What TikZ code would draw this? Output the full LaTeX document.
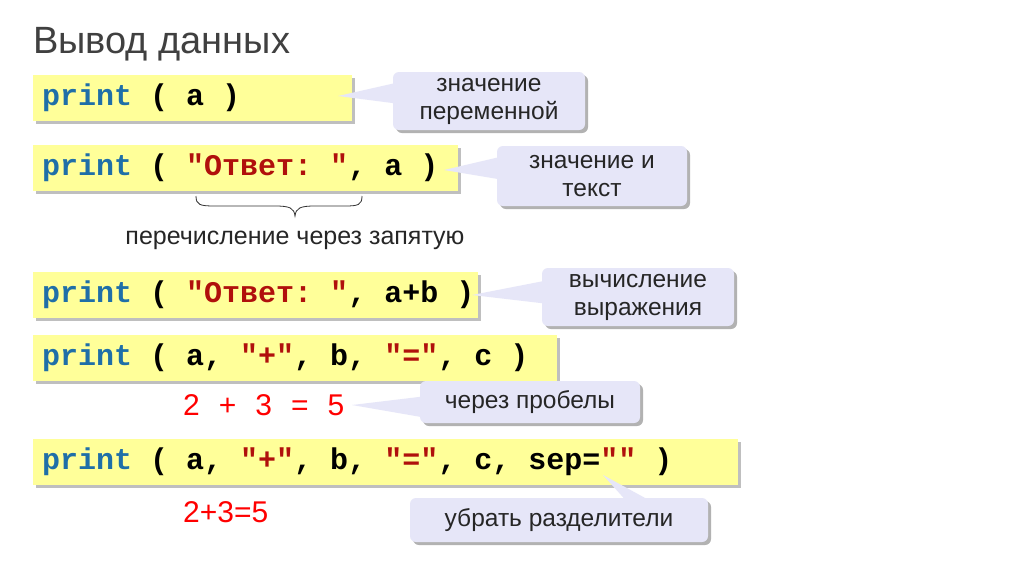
\documentclass[tikz,border=0pt]{standalone}
\usepackage{fontspec}
\setmainfont{Liberation Sans}
\setmonofont{Liberation Mono}
\begin{document}
\begin{tikzpicture}[x=1pt,y=-1pt,
  ctext/.style={anchor=west,font=\fontsize{30}{30}\selectfont\ttfamily\bfseries,inner sep=0},
  ctxt/.style={align=center,font=\fontsize{24.5}{28}\selectfont,text=black!85},
  outp/.style={anchor=west,inner sep=0,font=\fontsize{30}{30}\selectfont,text=red}]
\definecolor{codeyel}{HTML}{FFFF99}
\definecolor{calbg}{HTML}{E6E6F8}
\definecolor{kw}{HTML}{1F6FA8}
\definecolor{str}{HTML}{B0100C}
\useasboundingbox (0,0) rectangle (1024,574);
\fill[white] (0,0) rectangle (1024,574);
\node[anchor=west,font=\fontsize{38}{38}\selectfont,text=black!75,inner sep=0] (title) at (33,44) {Вывод данных};
% code boxes with shadows
\foreach \y/\r in {75/352,145/458,272/478,335/557,439/738}{
  \fill[black!25] (36,\y+3) rectangle (\r+3,\y+49);
  \fill[codeyel] (33,\y) rectangle (\r,\y+46);
}
\node[ctext] (c1) at (42,98) {\textcolor{kw}{print} ( a )};
\node[ctext] (c2) at (42,168) {\textcolor{kw}{print} ( \textcolor{str}{"Ответ: "}, a )};
\node[ctext] (c3) at (42,295) {\textcolor{kw}{print} ( \textcolor{str}{"Ответ: "}, a+b )};
\node[ctext] (c4) at (42,358) {\textcolor{kw}{print} ( a, \textcolor{str}{"+"}, b, \textcolor{str}{"="}, c )};
\node[ctext] (c5) at (42,462) {\textcolor{kw}{print} ( a, \textcolor{str}{"+"}, b, \textcolor{str}{"="}, c, sep=\textcolor{str}{""} )};
% brace
\draw[black!80,line width=0.8] (196,196) .. controls (196,205) and (200,206) .. (215,206) -- (275,206) .. controls (290,206) and (294,208) .. (295,216)
  .. controls (296,208) and (300,206) .. (315,206) -- (345,206) .. controls (358,206) and (362,205) .. (362,196);
\node[font=\fontsize{25}{25}\selectfont,text=black!85] (brl) at (295,240) {перечисление через запятую};
% outputs
\node[outp] (o1) at (183,405) {2\hspace{19pt}+\hspace{19pt}3\hspace{19pt}=\hspace{19pt}5};
\node[outp] (o2) at (183,512) {2+3=5};
% callouts
\coordinate (p1) at (338,96);
\coordinate (p2) at (444,170);
\coordinate (p3) at (472,295);
\coordinate (p4) at (352,405);
\coordinate (p5) at (603,475);
\foreach \xa/\ya/\xb/\yb in {393/72/585/130,497/146/687/206,542/268/734/326,420/381/640/423,410/498/708/542}{
  \fill[black!30,rounded corners=6] (\xa+3,\ya+3) rectangle (\xb+3,\yb+3);
}
\fill[calbg] (p1) -- (400,82) -- (400,104) -- cycle;
\fill[calbg] (p2) -- (504,156) -- (504,180) -- cycle;
\fill[calbg] (p3) -- (549,280) -- (549,304) -- cycle;
\fill[calbg] (p4) -- (427,396) -- (427,418) -- cycle;
\fill[calbg] (p5) -- (630,505) -- (658,505) -- cycle;
\fill[calbg,rounded corners=6] (393,72) rectangle (585,130);
\fill[calbg,rounded corners=6] (497,146) rectangle (687,206);
\fill[calbg,rounded corners=6] (542,268) rectangle (734,326);
\fill[calbg,rounded corners=6] (420,381) rectangle (640,423);
\fill[calbg,rounded corners=6] (410,498) rectangle (708,542);
\node[ctxt] (t1) at (489,101) {значение\\переменной};
\node[ctxt] (t2) at (592,176) {значение и\\текст};
\node[ctxt] (t3) at (638,297) {вычисление\\выражения};
\node[ctxt] (t4) at (530,402) {через пробелы};
\node[ctxt] (t5) at (559,520) {убрать разделители};
\end{tikzpicture}
\end{document}
